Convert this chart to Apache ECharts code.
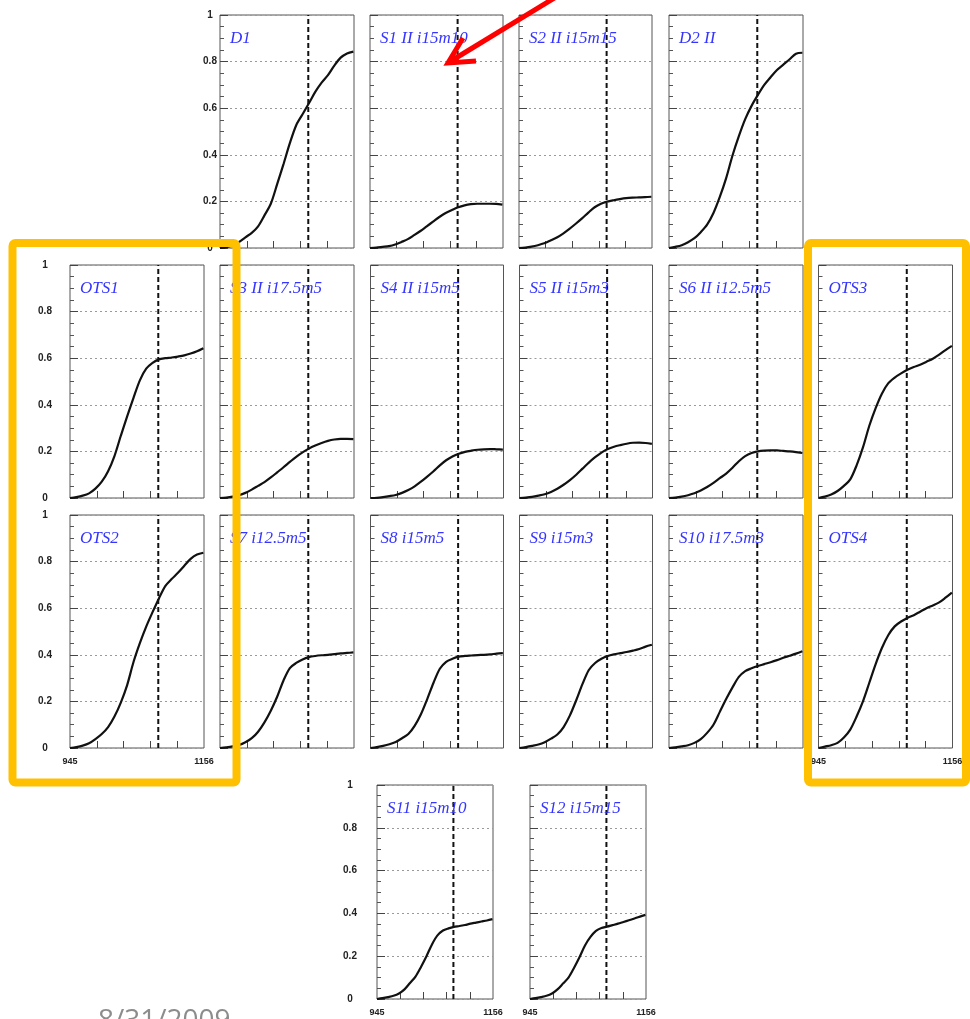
<!DOCTYPE html>
<html><head><meta charset="utf-8">
<script src="https://cdn.jsdelivr.net/npm/echarts@6/dist/echarts.min.js"></script>
<style>html,body{margin:0;padding:0;background:#fff}#c{width:970px;height:1019px}</style>
</head><body><div id="c"></div>
<script>
// ---------- data ----------
const xs = [945,955,965,975,985,995,1005,1015,1025,1035,1045,1055,1065,1075,1085,1095,1105,1115,1125,1135,1145,1155];
const xMin = 945, xMax = 1156;
const yMin = 0, yMax = 1, yStep = 0.2;
const cutX = 1084;

const D1   = [0,0.004,0.012,0.026,0.046,0.065,0.093,0.14,0.19,0.274,0.36,0.45,0.527,0.574,0.621,0.67,0.71,0.742,0.783,0.817,0.835,0.843];
const D2   = [0,0.005,0.012,0.025,0.042,0.068,0.1,0.15,0.219,0.3,0.397,0.48,0.553,0.61,0.657,0.7,0.733,0.764,0.787,0.81,0.834,0.838];
const S1   = [0,0.002,0.005,0.008,0.015,0.026,0.038,0.055,0.073,0.093,0.113,0.133,0.15,0.163,0.175,0.183,0.188,0.19,0.19,0.19,0.189,0.186];
const S2   = [0,0.002,0.006,0.012,0.02,0.032,0.045,0.062,0.082,0.104,0.127,0.152,0.175,0.19,0.199,0.205,0.21,0.214,0.216,0.217,0.218,0.22];
const S3   = [0,0.002,0.006,0.012,0.022,0.036,0.052,0.068,0.088,0.11,0.132,0.155,0.177,0.196,0.212,0.225,0.236,0.245,0.251,0.254,0.254,0.253];
const S4   = [0,0.001,0.004,0.008,0.013,0.022,0.034,0.05,0.07,0.092,0.115,0.14,0.162,0.178,0.19,0.198,0.203,0.207,0.209,0.21,0.209,0.208];
const S5   = [0,0.002,0.005,0.01,0.016,0.026,0.04,0.057,0.077,0.1,0.126,0.152,0.175,0.195,0.21,0.22,0.227,0.233,0.237,0.238,0.236,0.232];
const S6   = [0,0.002,0.006,0.012,0.02,0.032,0.047,0.065,0.085,0.105,0.13,0.158,0.18,0.193,0.2,0.203,0.204,0.204,0.202,0.2,0.197,0.193];
const S7   = [0,0.003,0.007,0.013,0.025,0.042,0.07,0.11,0.16,0.22,0.29,0.343,0.365,0.38,0.39,0.395,0.398,0.4,0.403,0.406,0.408,0.41];
const S8   = [0,0.004,0.009,0.016,0.026,0.042,0.06,0.095,0.145,0.21,0.28,0.34,0.37,0.383,0.392,0.395,0.397,0.399,0.4,0.402,0.405,0.407];
const S9   = [0,0.004,0.009,0.015,0.025,0.04,0.058,0.09,0.14,0.205,0.275,0.335,0.365,0.383,0.395,0.402,0.407,0.412,0.418,0.425,0.435,0.443];
const S10  = [0,0.003,0.007,0.012,0.022,0.038,0.065,0.1,0.155,0.21,0.26,0.305,0.33,0.342,0.352,0.36,0.368,0.377,0.387,0.396,0.405,0.415];
const S11  = [0,0.004,0.009,0.015,0.026,0.045,0.075,0.105,0.15,0.2,0.255,0.297,0.32,0.33,0.337,0.341,0.346,0.352,0.357,0.362,0.367,0.373];
const S12  = [0,0.004,0.009,0.015,0.026,0.045,0.072,0.1,0.145,0.195,0.25,0.29,0.318,0.332,0.338,0.345,0.352,0.36,0.368,0.376,0.385,0.393];
const OTS1 = [0,0.004,0.01,0.02,0.04,0.07,0.115,0.18,0.267,0.35,0.43,0.505,0.555,0.58,0.595,0.6,0.603,0.607,0.612,0.62,0.63,0.643];
const OTS2 = [0,0.004,0.01,0.02,0.038,0.06,0.09,0.135,0.195,0.27,0.369,0.45,0.521,0.583,0.642,0.695,0.725,0.752,0.782,0.812,0.83,0.838];
const OTS3 = [0,0.006,0.015,0.03,0.052,0.08,0.14,0.217,0.31,0.386,0.449,0.493,0.517,0.535,0.55,0.562,0.572,0.585,0.598,0.615,0.635,0.653];
const OTS4 = [0,0.006,0.012,0.022,0.045,0.079,0.135,0.2,0.28,0.36,0.43,0.485,0.522,0.543,0.558,0.57,0.585,0.6,0.612,0.625,0.645,0.667];

const seriesData = {D1,D2,S1,S2,S3,S4,S5,S6,S7,S8,S9,S10,S11,S12,OTS1,OTS2,OTS3,OTS4};
const titles = {
  D1:'D1', S1:'S1 II i15m10', S2:'S2 II i15m15', D2:'D2 II',
  OTS1:'OTS1', S3:'S3 II i17.5m5', S4:'S4 II i15m5', S5:'S5 II i15m3', S6:'S6 II i12.5m5', OTS3:'OTS3',
  OTS2:'OTS2', S7:'S7 i12.5m5', S8:'S8 i15m5', S9:'S9 i15m3', S10:'S10 i17.5m3', OTS4:'OTS4',
  S11:'S11 i15m10', S12:'S12 i15m15'
};
const dateText = '8/31/2009';

// ---------- layout (pixels) ----------
// [left, top, width, height, yLabelMargin (null = no labels), showXLabels]
const layout = {
  D1:[220,15,134,233,10,false], S1:[370,15,133,233,null,false], S2:[519,15,133,233,null,false], D2:[669,15,134,233,null,false],
  OTS1:[70,265,134,233,25,false], S3:[220,265,134,233,null,false], S4:[370.5,265,133,233,null,false], S5:[519.5,265,133,233,null,false], S6:[669,265,134,233,null,false], OTS3:[818.5,265,134,233,null,false],
  OTS2:[70,515,134,233,25,true], S7:[220,515,134,233,null,false], S8:[370.5,515,133,233,null,false], S9:[519.5,515,133,233,null,false], S10:[669,515,134,233,null,false], OTS4:[818.5,515,134,233,null,true],
  S11:[377,785,116,214,27,true], S12:[530,785,116,214,null,true]
};

const xTickVals = [1,2,3,4].map(k => xMin + k*(xMax-xMin)/5);
const labelFont = 'Liberation Sans';

const grid=[], xAxis=[], yAxis=[], series=[], graphic=[];
Object.keys(layout).forEach((key, i) => {
  const [l,t,w,h,ym,showX] = layout[key];
  grid.push({left:l, top:t, width:w, height:h, show:true, borderColor:'#555', borderWidth:1, outerBoundsMode:'none'});
  xAxis.push({
    type:'value', gridIndex:i, min:xMin, max:xMax,
    axisLine:{show:false}, splitLine:{show:false},
    axisTick:{show:true, inside:true, length:7, customValues:xTickVals, lineStyle:{color:'#444'}},
    axisLabel:{show:showX, customValues:[xMin,xMax], formatter:v=>String(v), fontSize:9, fontWeight:'bold', color:'#222', fontFamily:labelFont, margin:9}
  });
  yAxis.push({
    type:'value', gridIndex:i, min:yMin, max:yMax, interval:yStep,
    axisLine:{show:false},
    axisTick:{show:true, inside:true, length:8, lineStyle:{color:'#444'}},
    minorTick:{show:true, splitNumber:4, length:4, lineStyle:{color:'#555'}},
    splitLine:{show:true, lineStyle:{color:'#9a9a9a', type:[2,3], width:1}},
    axisLabel:{show:ym!==null, margin:ym===null?8:ym, align:'center', fontSize:10, fontWeight:'bold', color:'#222', fontFamily:labelFont}
  });
  const arr = seriesData[key];
  series.push({
    type:'line', xAxisIndex:i, yAxisIndex:i, showSymbol:false, smooth:0.3, silent:true,
    lineStyle:{color:'#111', width:2.2}, data: xs.map((x,j)=>[x, arr[j]])
  });
  series.push({
    type:'line', xAxisIndex:i, yAxisIndex:i, showSymbol:false, silent:true, z:3,
    lineStyle:{color:'#111', width:2, type:[5,3]}, data:[[cutX,yMin],[cutX,yMax]]
  });
  graphic.push({type:'text', x:l+10, y:t+23.5, z:50, silent:true,
    style:{text:titles[key], fontStyle:'italic', fontSize:17, fontFamily:'Liberation Serif', fill:'#3535ff', textVerticalAlign:'middle'}});
});

// annotations
graphic.push({type:'rect', z:100, silent:true, shape:{x:12.5, y:243, width:224, height:539.5, r:3},
  style:{fill:'none', stroke:'#FFC000', lineWidth:8}});
graphic.push({type:'rect', z:100, silent:true, shape:{x:808, y:243, width:158, height:539.5, r:3},
  style:{fill:'none', stroke:'#FFC000', lineWidth:8}});
graphic.push({type:'line', z:101, silent:true, shape:{x1:556, y1:-3, x2:451, y2:61},
  style:{stroke:'#f00', lineWidth:5}});
graphic.push({type:'polyline', z:101, silent:true, shape:{points:[[463,38],[448,63],[476,61]]},
  style:{stroke:'#f00', lineWidth:5, fill:'none', lineJoin:'miter'}});
graphic.push({type:'text', z:101, silent:true, x:98, y:1021,
  style:{text:dateText, fontSize:28, fontFamily:'Open Sans', fill:'#8c8c8c', textVerticalAlign:'middle'}});

const chart = echarts.init(document.getElementById('c'), null, {renderer:'canvas'});
chart.setOption({animation:false, backgroundColor:'#fff', grid, xAxis, yAxis, series, graphic});
</script></body></html>
